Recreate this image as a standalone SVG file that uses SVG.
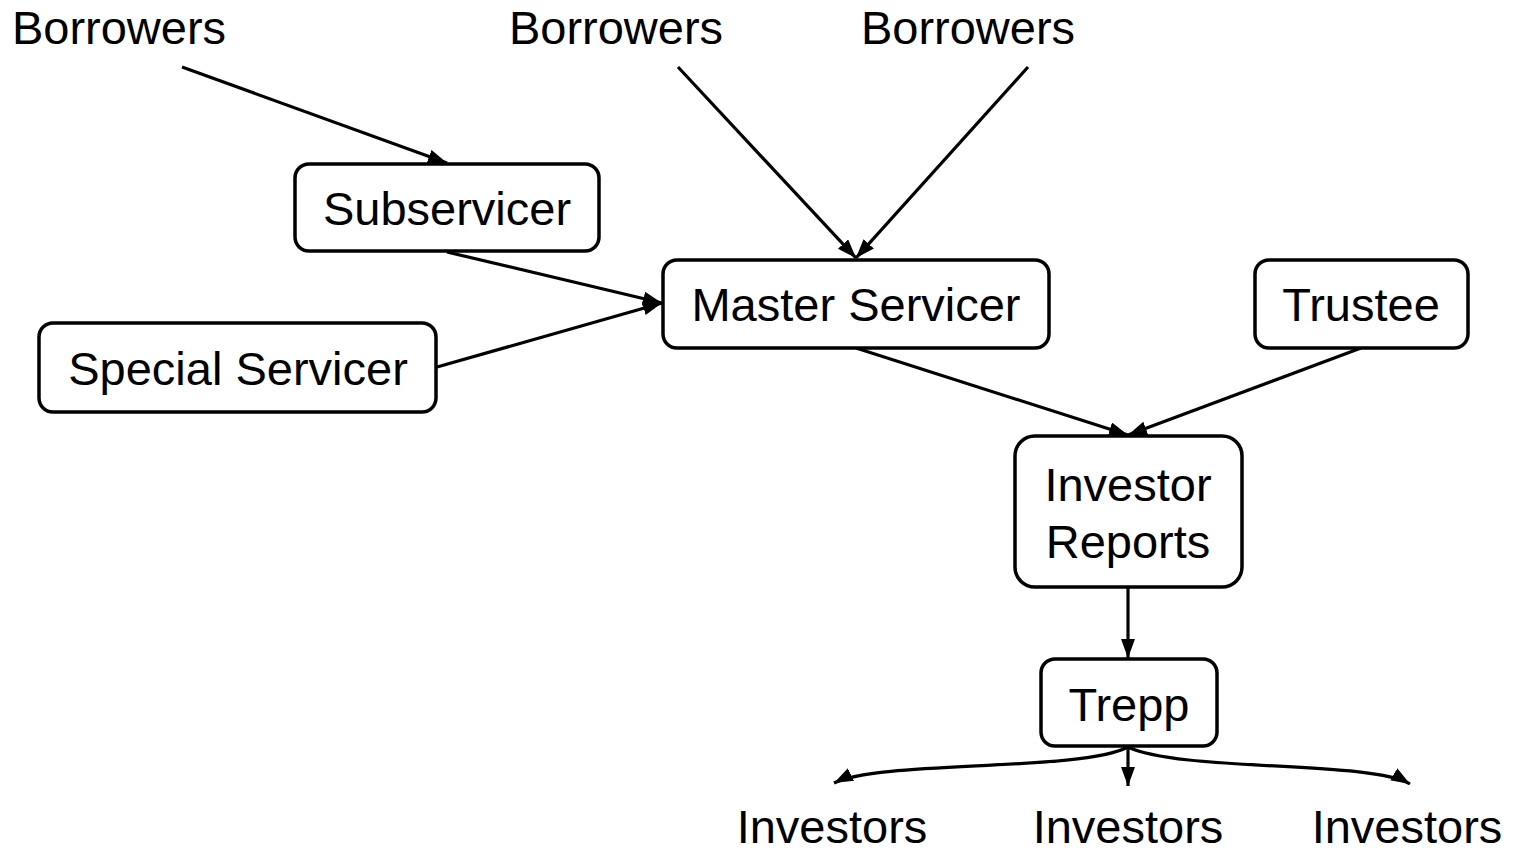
<svg xmlns="http://www.w3.org/2000/svg" width="1518" height="852" viewBox="0 0 1518 852">
<defs>
<style>
.box{fill:#fff;stroke:#000;stroke-width:3.5}
.t{font-family:"Liberation Sans",Arial,sans-serif;font-size:47px;fill:#000;text-anchor:middle}
.c{fill:none;stroke:#000;stroke-width:3.2}
</style>
<marker id="ah" markerUnits="userSpaceOnUse" markerWidth="22" markerHeight="16" refX="19" refY="7" orient="auto">
<path d="M0,0 L19,7 L0,14 z" fill="#000"/>
</marker>
</defs>
<rect width="1518" height="852" fill="#fff"/>
<g id="connectors">
<line class="c" x1="182" y1="67" x2="447" y2="163" marker-end="url(#ah)"/>
<line class="c" x1="447" y1="252" x2="662" y2="303" marker-end="url(#ah)"/>
<line class="c" x1="437" y1="367" x2="662" y2="303" marker-end="url(#ah)"/>
<line class="c" x1="678" y1="67" x2="856" y2="258" marker-end="url(#ah)"/>
<line class="c" x1="1028" y1="67" x2="856" y2="258" marker-end="url(#ah)"/>
<line class="c" x1="856" y1="348" x2="1128" y2="435" marker-end="url(#ah)"/>
<line class="c" x1="1361" y1="348" x2="1128" y2="435" marker-end="url(#ah)"/>
<line class="c" x1="1128" y1="587" x2="1128" y2="658" marker-end="url(#ah)"/>
<line class="c" x1="1128" y1="747" x2="1128" y2="786" marker-end="url(#ah)"/>
<path class="c" d="M1128,747 C1080,772 880,760 834,783" marker-end="url(#ah)"/>
<path class="c" d="M1128,747 C1180,772 1370,760 1410,784" marker-end="url(#ah)"/>
</g>
<g id="borrowers1"><text class="t" x="119" y="44">Borrowers</text></g>
<g id="borrowers2"><text class="t" x="616" y="44">Borrowers</text></g>
<g id="borrowers3"><text class="t" x="968" y="44">Borrowers</text></g>
<g id="subservicer"><rect class="box" x="295" y="164" width="304" height="87" rx="14"/><text class="t" x="447" y="225">Subservicer</text></g>
<g id="master-servicer"><rect class="box" x="663" y="260" width="386" height="88" rx="14"/><text class="t" x="856" y="321">Master Servicer</text></g>
<g id="special-servicer"><rect class="box" x="39" y="323" width="397" height="89" rx="14"/><text class="t" x="238" y="385">Special Servicer</text></g>
<g id="trustee"><rect class="box" x="1255" y="260" width="213" height="88" rx="14"/><text class="t" x="1361" y="321">Trustee</text></g>
<g id="investor-reports"><rect class="box" x="1015" y="436" width="227" height="151" rx="20"/><text class="t" x="1128" y="501">Investor</text><text class="t" x="1128" y="558">Reports</text></g>
<g id="trepp"><rect class="box" x="1041" y="659" width="176" height="87" rx="14"/><text class="t" x="1129" y="721">Trepp</text></g>
<g id="investors1"><text class="t" x="832" y="843">Investors</text></g>
<g id="investors2"><text class="t" x="1128" y="843">Investors</text></g>
<g id="investors3"><text class="t" x="1407" y="843">Investors</text></g>
</svg>
